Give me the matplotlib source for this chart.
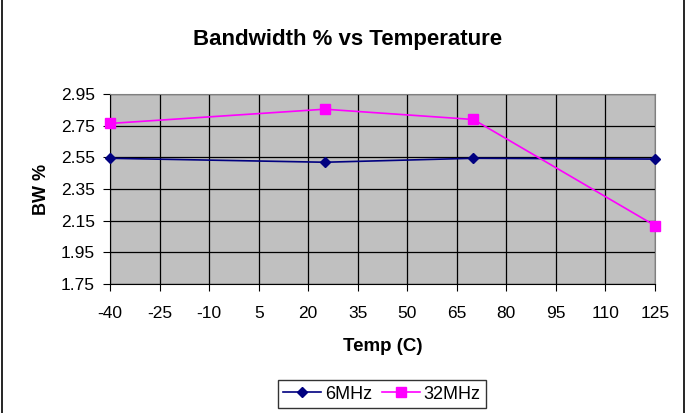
import numpy as np
import matplotlib.pyplot as plt
from matplotlib.patches import Rectangle

plt.rcParams['font.family'] = ['Liberation Sans', 'DejaVu Sans']
plt.rcParams['axes.unicode_minus'] = False

temps = [-40, 25, 70, 125]
bw_6mhz = [2.545, 2.52, 2.545, 2.54]
bw_32mhz = [2.765, 2.855, 2.79, 2.12]
xticks = list(range(-40, 126, 15))
yticks = [1.75, 1.95, 2.15, 2.35, 2.55, 2.75, 2.95]

fig = plt.figure(figsize=(6.88, 4.13), dpi=100)
fig.patches.append(Rectangle((0.003, -0.01), 0.991, 1.02, transform=fig.transFigure,
                             fill=False, edgecolor='black', linewidth=1.2))
ax = fig.add_axes([0.160, 0.312, 0.792, 0.460])
ax.set_facecolor('#C0C0C0')

ax.plot(temps, bw_6mhz, color='#000080', marker='D', markersize=5, linewidth=1.2,
        label='6MHz', clip_on=False, zorder=3)
ax.plot(temps, bw_32mhz, color='#FF00FF', marker='s', markersize=6.5, linewidth=1.2,
        label='32MHz', clip_on=False, zorder=3)

ax.set_xlim(-40, 125)
ax.set_ylim(1.75, 2.95)
ax.set_xticks(xticks)
ax.set_yticks(yticks)
ax.set_yticklabels([f'{v:.2f}' for v in yticks])
ax.grid(True, color='black', linewidth=0.9)
ax.set_axisbelow(True)
for s in ['top', 'right']:
    ax.spines[s].set_color('#808080')
for s in ['left', 'bottom']:
    ax.spines[s].set_color('black')
ax.tick_params(direction='out', length=5, labelsize=12.5, colors='black')
ax.tick_params(axis='x', pad=11)
ax.tick_params(axis='y', pad=6)

ax.set_xlabel('Temp (C)', fontsize=13.5, fontweight='bold', labelpad=12)
ax.set_ylabel('BW %', fontsize=13, fontweight='bold', labelpad=8)
fig.text(0.505, 0.905, 'Bandwidth % vs Temperature', fontsize=16, fontweight='bold',
         ha='center', va='center')

leg = fig.legend(loc='center', bbox_to_anchor=(0.555, 0.046), ncol=2, frameon=True,
                 fancybox=False, edgecolor='black', fontsize=13, handlelength=2.1,
                 columnspacing=0.55, handletextpad=0.2, borderpad=0.3)
leg.get_frame().set_linewidth(1.0)

fig.savefig('out.png', dpi=100)
